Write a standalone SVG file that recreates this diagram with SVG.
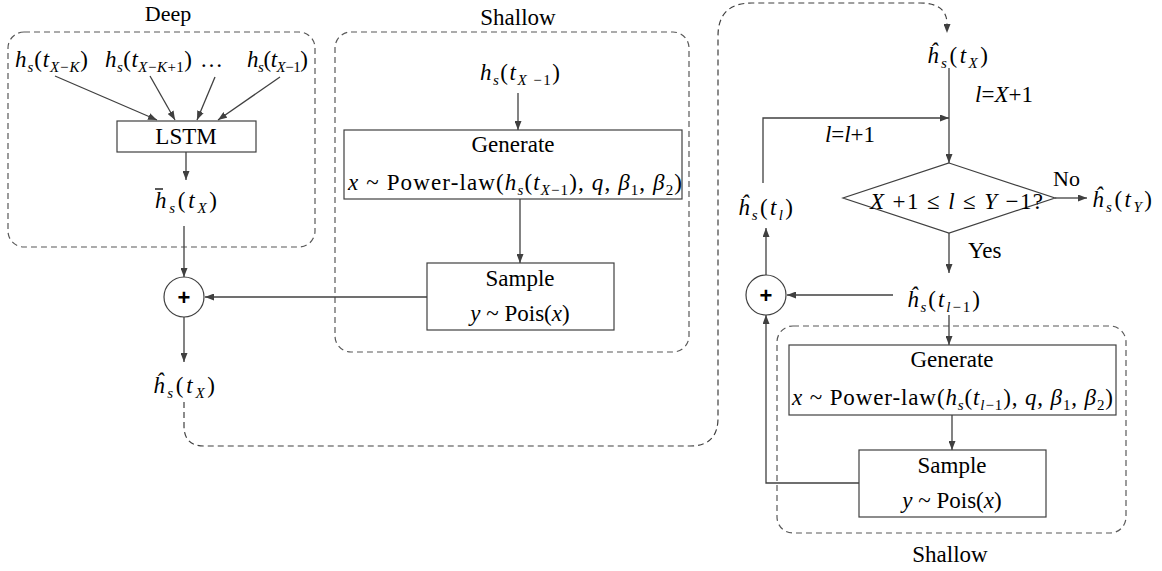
<svg xmlns="http://www.w3.org/2000/svg" width="1162" height="571" viewBox="0 0 1162 571">
<style>
.t{font-family:"Liberation Serif","Times New Roman",serif;font-size:23px;fill:#000}
.i{font-style:italic}
.sb{font-size:15px}
.box{fill:#fff;stroke:#404040;stroke-width:1.2}
.grp{fill:none;stroke:#595959;stroke-width:1.2;stroke-dasharray:6 4}
.ln{fill:none;stroke:#404040;stroke-width:1.3}
.dl{fill:none;stroke:#404040;stroke-width:1.2;stroke-dasharray:6 4}
.plus{fill:#fff;stroke:#404040;stroke-width:1.2}
.pt{font-family:"Liberation Sans",Arial,sans-serif;font-size:22px;font-weight:bold;fill:#000}
</style>
<defs>
<marker id="ah" markerWidth="9" markerHeight="7" refX="9" refY="3.5" orient="auto" markerUnits="userSpaceOnUse">
<path d="M0,0 L9,3.5 L0,7 z" fill="#404040"/>
</marker>
</defs>

<!-- group frames -->
<g id="deep-group">
<rect class="grp" x="8" y="32" width="307" height="215" rx="16"/>
<text class="t" x="168" y="21" text-anchor="middle" style="font-size:22px">Deep</text>
</g>
<g id="shallow-group-1">
<rect class="grp" x="335" y="32" width="354" height="320" rx="16"/>
<text class="t" x="518" y="25" text-anchor="middle">Shallow</text>
</g>
<g id="shallow-group-2">
<rect class="grp" x="777" y="326" width="349" height="207" rx="16"/>
<text class="t" x="950" y="562" text-anchor="middle">Shallow</text>
</g>

<!-- connectors -->
<g id="connectors">
<line class="ln" x1="55" y1="76" x2="157" y2="120" marker-end="url(#ah)"/>
<line class="ln" x1="150" y1="76" x2="175" y2="120" marker-end="url(#ah)"/>
<line class="ln" x1="215" y1="77" x2="197" y2="120" marker-end="url(#ah)"/>
<line class="ln" x1="280" y1="77" x2="218" y2="120" marker-end="url(#ah)"/>
<line class="ln" x1="186" y1="152" x2="186" y2="180" marker-end="url(#ah)"/>
<line class="ln" x1="184" y1="226" x2="184" y2="277" marker-end="url(#ah)"/>
<line class="ln" x1="427" y1="297" x2="205" y2="297" marker-end="url(#ah)"/>
<line class="ln" x1="184" y1="317" x2="184" y2="362" marker-end="url(#ah)"/>
<line class="ln" x1="518" y1="93" x2="518" y2="130" marker-end="url(#ah)"/>
<line class="ln" x1="520" y1="199" x2="520" y2="263" marker-end="url(#ah)"/>
<path class="dl" d="M184,402 L184,426 Q184,446 204,446 L690,446 Q718,446 718,418 L718,36 Q718,3 752,3 L920,3 Q947,3 947,24 L947,33" marker-end="url(#ah)"/>
<line class="ln" x1="949" y1="68" x2="949" y2="163" marker-end="url(#ah)"/>
<polyline class="ln" points="763,183 763,118 949,118" marker-end="url(#ah)"/>
<line class="ln" x1="1055" y1="198" x2="1087" y2="198" marker-end="url(#ah)"/>
<line class="ln" x1="949" y1="233" x2="949" y2="273" marker-end="url(#ah)"/>
<line class="ln" x1="893" y1="295" x2="787" y2="295" marker-end="url(#ah)"/>
<line class="ln" x1="766" y1="275" x2="766" y2="228" marker-end="url(#ah)"/>
<line class="ln" x1="949" y1="315" x2="949" y2="345" marker-end="url(#ah)"/>
<line class="ln" x1="952" y1="415" x2="952" y2="450" marker-end="url(#ah)"/>
<polyline class="ln" points="859,483 766,483 766,315" marker-end="url(#ah)"/>
</g>

<!-- Deep inputs -->
<g id="in-xk">
<text class="t" x="15" y="67" textLength="73"><tspan class="i">h</tspan><tspan class="i sb" dy="5">s</tspan><tspan dy="-5">(</tspan><tspan class="i">t</tspan><tspan class="sb" dy="5"><tspan class="i">X</tspan>−<tspan class="i">K</tspan></tspan><tspan dy="-5">)</tspan></text>
</g>
<g id="in-xk1">
<text class="t" x="105" y="67" textLength="87"><tspan class="i">h</tspan><tspan class="i sb" dy="5">s</tspan><tspan dy="-5">(</tspan><tspan class="i">t</tspan><tspan class="sb" dy="5"><tspan class="i">X</tspan>−<tspan class="i">K</tspan>+1</tspan><tspan dy="-5">)</tspan></text>
</g>
<g id="in-dots">
<text class="t" x="200" y="67" textLength="27">…</text>
</g>
<g id="in-x1">
<text class="t" x="247" y="67" textLength="61"><tspan class="i">h</tspan><tspan class="i sb" dy="5">s</tspan><tspan dy="-5">(</tspan><tspan class="i">t</tspan><tspan class="sb" dy="5"><tspan class="i">X</tspan>−1</tspan><tspan dy="-5">)</tspan></text>
</g>
<g id="lstm">
<rect class="box" x="117" y="121" width="139" height="31"/>
<text class="t" x="186" y="144" text-anchor="middle">LSTM</text>
</g>
<g id="hbar">
<line x1="155" y1="189" x2="163" y2="189" stroke="#000" stroke-width="1.3"/>
<text class="t" x="155" y="208" textLength="62"><tspan class="i">h</tspan><tspan class="i sb" dy="5">s</tspan><tspan dy="-5">(</tspan><tspan class="i">t</tspan><tspan class="i sb" dy="5">X</tspan><tspan dy="-5">)</tspan></text>
</g>
<g id="plus-1">
<circle class="plus" cx="184" cy="297" r="20"/>
<text class="pt" x="184" y="305" text-anchor="middle">+</text>
</g>
<g id="hhat-x-out">
<text class="t" x="153" y="393" textLength="62"><tspan class="i">ĥ</tspan><tspan class="i sb" dy="5">s</tspan><tspan dy="-5">(</tspan><tspan class="i">t</tspan><tspan class="i sb" dy="5">X</tspan><tspan dy="-5">)</tspan></text>
</g>

<!-- middle shallow -->
<g id="in-shallow">
<text class="t" x="480" y="80" textLength="80"><tspan class="i">h</tspan><tspan class="i sb" dy="5">s</tspan><tspan dy="-5">(</tspan><tspan class="i">t</tspan><tspan class="sb" dy="5"><tspan class="i">X</tspan> −1</tspan><tspan dy="-5">)</tspan></text>
</g>
<g id="generate-1">
<rect class="box" x="344" y="130" width="338" height="69"/>
<text class="t" x="513" y="152" text-anchor="middle">Generate</text>
<text class="t" x="348" y="190" textLength="334"><tspan class="i">x</tspan> ~ Power-law(<tspan class="i">h</tspan><tspan class="i sb" dy="5">s</tspan><tspan dy="-5">(</tspan><tspan class="i">t</tspan><tspan class="sb" dy="5"><tspan class="i">X</tspan>−1</tspan><tspan dy="-5">), </tspan><tspan class="i">q</tspan>, <tspan class="i">β</tspan><tspan class="sb" dy="5">1</tspan><tspan dy="-5">, </tspan><tspan class="i">β</tspan><tspan class="sb" dy="5">2</tspan><tspan dy="-5">)</tspan></text>
</g>
<g id="sample-1">
<rect class="box" x="427" y="263" width="187" height="67"/>
<text class="t" x="520" y="286" text-anchor="middle">Sample</text>
<text class="t" x="520" y="321" text-anchor="middle"><tspan class="i">y</tspan> ~ Pois(<tspan class="i">x</tspan>)</text>
</g>

<!-- right side -->
<g id="hhat-x-in">
<text class="t" x="927" y="63" textLength="61"><tspan class="i">ĥ</tspan><tspan class="i sb" dy="5">s</tspan><tspan dy="-5">(</tspan><tspan class="i">t</tspan><tspan class="i sb" dy="5">X</tspan><tspan dy="-5">)</tspan></text>
</g>
<g id="lbl-init">
<text class="t" x="975" y="102" textLength="58"><tspan class="i">l</tspan>=<tspan class="i">X</tspan>+1</text>
</g>
<g id="lbl-inc">
<text class="t" x="825" y="142" textLength="50"><tspan class="i">l</tspan>=<tspan class="i">l</tspan>+1</text>
</g>
<g id="decision">
<polygon class="box" points="949,163 1055,198 949,233 843,198"/>
<text class="t" x="870" y="209" textLength="173"><tspan class="i">X</tspan> +1 ≤ <tspan class="i">l</tspan> ≤ <tspan class="i">Y</tspan> −1?</text>
</g>
<g id="lbl-no">
<text class="t" x="1053" y="186" style="font-size:22px">No</text>
</g>
<g id="hhat-y">
<text class="t" x="1092" y="207" textLength="60"><tspan class="i">ĥ</tspan><tspan class="i sb" dy="5">s</tspan><tspan dy="-5">(</tspan><tspan class="i">t</tspan><tspan class="i sb" dy="5">Y</tspan><tspan dy="-5">)</tspan></text>
</g>
<g id="lbl-yes">
<text class="t" x="968" y="258">Yes</text>
</g>
<g id="hhat-l">
<text class="t" x="738" y="215" textLength="55"><tspan class="i">ĥ</tspan><tspan class="i sb" dy="5">s</tspan><tspan dy="-5">(</tspan><tspan class="i">t</tspan><tspan class="i sb" dy="5">l</tspan><tspan dy="-5">)</tspan></text>
</g>
<g id="hhat-l1">
<text class="t" x="907" y="307" textLength="73"><tspan class="i">ĥ</tspan><tspan class="i sb" dy="5">s</tspan><tspan dy="-5">(</tspan><tspan class="i">t</tspan><tspan class="sb" dy="5"><tspan class="i">l</tspan>−1</tspan><tspan dy="-5">)</tspan></text>
</g>
<g id="plus-2">
<circle class="plus" cx="766" cy="295" r="20"/>
<text class="pt" x="766" y="303" text-anchor="middle">+</text>
</g>
<g id="generate-2">
<rect class="box" x="789" y="345" width="327" height="70"/>
<text class="t" x="952" y="367" text-anchor="middle">Generate</text>
<text class="t" x="792" y="405" textLength="321"><tspan class="i">x</tspan> ~ Power-law(<tspan class="i">h</tspan><tspan class="i sb" dy="5">s</tspan><tspan dy="-5">(</tspan><tspan class="i">t</tspan><tspan class="sb" dy="5"><tspan class="i">l</tspan>−1</tspan><tspan dy="-5">), </tspan><tspan class="i">q</tspan>, <tspan class="i">β</tspan><tspan class="sb" dy="5">1</tspan><tspan dy="-5">, </tspan><tspan class="i">β</tspan><tspan class="sb" dy="5">2</tspan><tspan dy="-5">)</tspan></text>
</g>
<g id="sample-2">
<rect class="box" x="859" y="450" width="187" height="67"/>
<text class="t" x="952" y="473" text-anchor="middle">Sample</text>
<text class="t" x="952" y="508" text-anchor="middle"><tspan class="i">y</tspan> ~ Pois(<tspan class="i">x</tspan>)</text>
</g>
</svg>
